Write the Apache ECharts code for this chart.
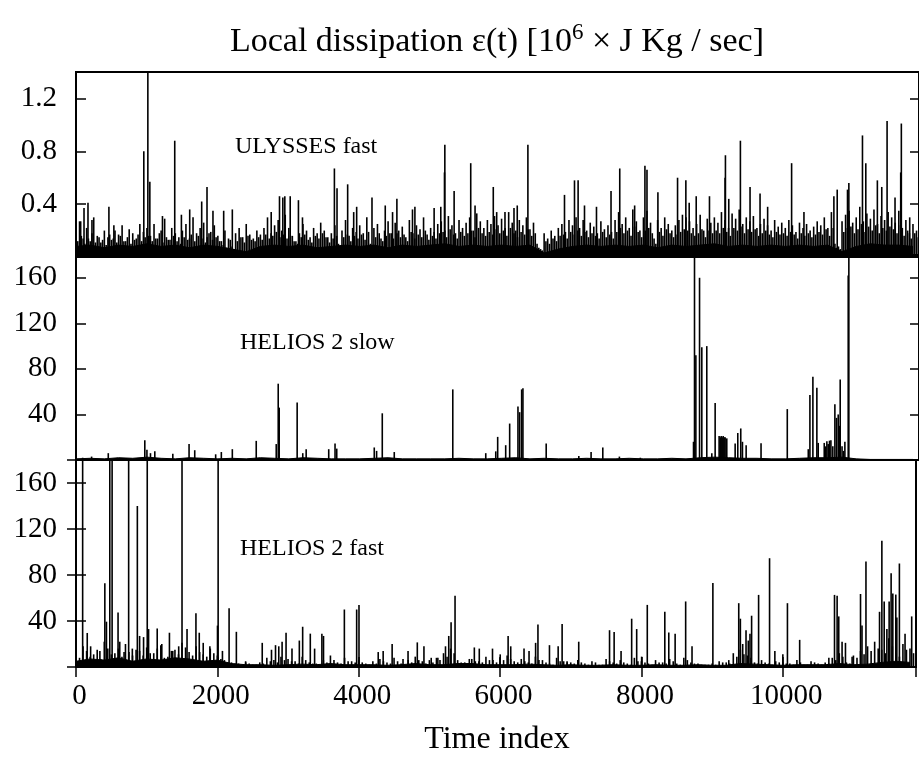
<!DOCTYPE html>
<html>
<head>
<meta charset="utf-8">
<script src="https://cdn.jsdelivr.net/npm/echarts@6/dist/echarts.min.js"></script>
<style>
  html, body { margin: 0; padding: 0; background: #fff; }
  #chart { width: 919px; height: 768px; }
</style>
</head>
<body>
<div id="chart"></div>
<script>
// x range of the time index (0 sits on the left frame, right frame is just off-page)
const xMax = 11885
const xTicks = [0, 2000, 4000, 6000, 8000, 10000]

// ULYSSES fast: background activity every 50 samples (two interleaved rows), solid floor every 200, tall spikes
const ulyssesBody = [
  0.18, 0.27, 0.14, 0.22, 0.12, 0.30, 0.16, 0.11, 0.20, 0.15,
  0.13, 0.20, 0.17, 0.24, 0.12, 0.21, 0.18, 0.14, 0.25, 0.19,
  0.22, 0.16, 0.25, 0.14, 0.20, 0.29, 0.13, 0.22, 0.18, 0.15,
  0.20, 0.25, 0.14, 0.30, 0.18, 0.22, 0.26, 0.15, 0.19, 0.24,
  0.16, 0.12, 0.20, 0.14, 0.08, 0.18, 0.22, 0.15, 0.25, 0.17,
  0.14, 0.20, 0.17, 0.22, 0.30, 0.18, 0.24, 0.28, 0.20, 0.32,
  0.22, 0.16, 0.12, 0.18, 0.25, 0.20, 0.15, 0.22, 0.18, 0.26,
  0.20, 0.15, 0.18, 0.24, 0.10, 0.20, 0.28, 0.16, 0.22, 0.19,
  0.24, 0.18, 0.30, 0.10, 0.22, 0.25, 0.14, 0.20, 0.27, 0.18,
  0.26, 0.20, 0.23, 0.15, 0.28, 0.18, 0.24, 0.21, 0.30, 0.17,
  0.22, 0.19, 0.25, 0.27, 0.20, 0.31, 0.24, 0.18, 0.28, 0.22,
  0.26, 0.30, 0.20, 0.33, 0.27, 0.22, 0.28, 0.25, 0.31, 0.24,
  0.29, 0.22, 0.34, 0.26, 0.20, 0.28, 0.24, 0.30, 0.21, 0.26,
  0.10, 0.06, 0.18, 0.14, 0.20, 0.16, 0.22, 0.25, 0.19, 0.28,
  0.24, 0.30, 0.22, 0.28, 0.20, 0.26, 0.23, 0.18, 0.27, 0.21,
  0.24, 0.19, 0.28, 0.34, 0.25, 0.30, 0.22, 0.36, 0.27, 0.20,
  0.30, 0.35, 0.26, 0.14, 0.28, 0.22, 0.30, 0.25, 0.20, 0.24,
  0.28, 0.32, 0.30, 0.27, 0.22, 0.25, 0.32, 0.20, 0.29, 0.26,
  0.30, 0.26, 0.34, 0.28, 0.22, 0.33, 0.29, 0.36, 0.25, 0.30,
  0.27, 0.31, 0.22, 0.25, 0.29, 0.24, 0.20, 0.28, 0.23, 0.26,
  0.22, 0.28, 0.24, 0.19, 0.26, 0.22, 0.25, 0.20, 0.23, 0.27,
  0.24, 0.30, 0.22, 0.34, 0.10, 0.08, 0.27, 0.32, 0.35, 0.26,
  0.30, 0.38, 0.27, 0.33, 0.29, 0.36, 0.25, 0.31, 0.28, 0.34,
  0.30, 0.26, 0.35, 0.22, 0.28, 0.18, 0.25, 0.20
]
// the in-between samples (index 25, 75, 125, ...)
const ulyssesBodyMid = [
  0.12, 0.16, 0.10, 0.14, 0.18, 0.11, 0.15, 0.13, 0.09, 0.17,
  0.14, 0.11, 0.16, 0.12, 0.15, 0.10, 0.13, 0.17, 0.12, 0.15,
  0.16, 0.12, 0.14, 0.18, 0.11, 0.15, 0.13, 0.16, 0.12, 0.10,
  0.15, 0.13, 0.17, 0.12, 0.16, 0.14, 0.11, 0.18, 0.13, 0.15,
  0.12, 0.09, 0.07, 0.13, 0.06, 0.12, 0.15, 0.11, 0.16, 0.13,
  0.12, 0.15, 0.13, 0.17, 0.14, 0.16, 0.19, 0.15, 0.17, 0.14,
  0.16, 0.12, 0.10, 0.15, 0.17, 0.13, 0.11, 0.16, 0.14, 0.18,
  0.15, 0.11, 0.14, 0.16, 0.08, 0.15, 0.17, 0.12, 0.16, 0.14,
  0.17, 0.13, 0.19, 0.08, 0.15, 0.18, 0.12, 0.16, 0.18, 0.14,
  0.18, 0.15, 0.17, 0.12, 0.19, 0.14, 0.17, 0.15, 0.20, 0.13,
  0.16, 0.14, 0.18, 0.19, 0.15, 0.21, 0.17, 0.14, 0.19, 0.16,
  0.18, 0.20, 0.15, 0.22, 0.18, 0.16, 0.19, 0.17, 0.21, 0.18,
  0.20, 0.16, 0.22, 0.18, 0.15, 0.19, 0.17, 0.21, 0.16, 0.18,
  0.07, 0.05, 0.12, 0.10, 0.14, 0.12, 0.16, 0.17, 0.14, 0.19,
  0.17, 0.20, 0.16, 0.19, 0.15, 0.18, 0.16, 0.14, 0.19, 0.15,
  0.17, 0.14, 0.19, 0.22, 0.18, 0.20, 0.16, 0.23, 0.19, 0.15,
  0.20, 0.22, 0.18, 0.10, 0.19, 0.16, 0.21, 0.18, 0.15, 0.17,
  0.19, 0.21, 0.20, 0.18, 0.16, 0.18, 0.21, 0.15, 0.20, 0.18,
  0.20, 0.18, 0.22, 0.19, 0.16, 0.22, 0.20, 0.23, 0.18, 0.21,
  0.19, 0.21, 0.16, 0.18, 0.20, 0.17, 0.15, 0.19, 0.17, 0.18,
  0.16, 0.19, 0.17, 0.14, 0.18, 0.16, 0.18, 0.15, 0.17, 0.19,
  0.17, 0.21, 0.16, 0.22, 0.07, 0.06, 0.19, 0.22, 0.23, 0.18,
  0.21, 0.25, 0.19, 0.23, 0.20, 0.24, 0.18, 0.22, 0.20, 0.23,
  0.21, 0.18, 0.24, 0.16, 0.20, 0.14, 0.18, 0.15
]
const ulyssesFloor = [
  0.08, 0.09, 0.07, 0.09, 0.08, 0.10, 0.08, 0.09, 0.07, 0.09,
  0.08, 0.06, 0.04, 0.08, 0.09, 0.08, 0.09, 0.07, 0.08, 0.09,
  0.08, 0.09, 0.07, 0.09, 0.08, 0.09, 0.10, 0.08, 0.09, 0.08,
  0.09, 0.08, 0.09, 0.03, 0.06, 0.08, 0.09, 0.08, 0.09, 0.08,
  0.09, 0.07, 0.09, 0.08, 0.09, 0.10, 0.08, 0.09, 0.08, 0.09,
  0.08, 0.09, 0.08, 0.09, 0.04, 0.08, 0.10, 0.09, 0.09, 0.08
]
const ulyssesSpikes = [
  [66, 0.27], [113, 0.37], [169, 0.41], [225, 0.28], [464, 0.38], [534, 0.24],
  [956, 0.80], [1013, 1.5], [1041, 0.57], [1219, 0.31], [1392, 0.88], [1486, 0.32],
  [1603, 0.36], [1772, 0.42], [1847, 0.53], [1931, 0.35], [2082, 0.35], [2204, 0.36],
  [2752, 0.34], [2869, 0.46], [2916, 0.45], [2944, 0.46], [3020, 0.46], [3136, 0.43],
  [3193, 0.30], [3643, 0.67], [3680, 0.52], [3830, 0.55], [3915, 0.34], [3957, 0.38],
  [4173, 0.45], [4360, 0.39], [4463, 0.34], [4524, 0.44], [4744, 0.36], [4778, 0.38],
  [5049, 0.37], [5143, 0.38], [5195, 0.64], [5200, 0.85], [5331, 0.50], [5565, 0.71],
  [5626, 0.39], [5883, 0.53], [5931, 0.34], [6048, 0.34], [6175, 0.37], [6221, 0.39],
  [6371, 0.85], [6887, 0.47], [7028, 0.58], [7079, 0.58], [7169, 0.39], [7338, 0.38],
  [7543, 0.50], [7666, 0.67], [7876, 0.39], [8021, 0.69], [8050, 0.66], [8204, 0.49],
  [8481, 0.60], [8598, 0.58], [8645, 0.41], [8744, 0.46], [8931, 0.46], [9151, 0.60],
  [9156, 0.77], [9203, 0.44], [9367, 0.88], [9503, 0.53], [9644, 0.48], [9751, 0.38],
  [10089, 0.71], [10263, 0.34], [10685, 0.46], [10732, 0.51], [10877, 0.51], [10896, 0.56],
  [11088, 0.92], [11135, 0.71], [11298, 0.58], [11360, 0.53], [11435, 1.03], [11547, 0.45],
  [11627, 0.64], [11636, 1.01], [11754, 0.30]
]

// HELIOS 2 slow: floor every 200 samples and the spikes
const slowFloor = [
  1, 1.5, 1, 2, 1.5, 2.5, 1.5, 1, 2, 1.5,
  1, 1.5, 1, 2, 1.5, 1, 2, 1.5, 1, 1,
  1, 1.5, 2, 1, 1, 1, 1, 1.5, 1, 1,
  1.5, 2, 1, 1.5, 1, 1, 1.5, 1, 1, 1.5,
  1, 1, 1.5, 1, 2, 2.5, 2, 1.5, 1.5, 1,
  1, 1.5, 2, 2, 2.5, 1, 0.5, 0.5, 0.5, 0.5
]
const slowSpikes = [
  [94, 2], [220, 3], [455, 6], [970, 17.4], [1000, 9], [1050, 6], [1111, 7.6],
  [1365, 5.5], [1594, 14], [1674, 8.6], [1969, 5], [2049, 7], [2204, 9.5], [2541, 16.8],
  [2823, 14], [2851, 67], [2865, 46], [3118, 50.5], [3197, 6], [3245, 9.5], [3563, 9.5],
  [3652, 14.5], [3676, 10], [4205, 11], [4238, 8], [4318, 41], [4487, 7], [5312, 62],
  [5777, 6], [5918, 7.6], [5945, 20.3], [6058, 13], [6114, 32], [6231, 47], [6255, 42],
  [6283, 62], [6301, 63], [6629, 14.5], [7089, 3.5], [7262, 7], [7427, 11], [7661, 3],
  [7956, 2], [8706, 16], [8720, 200], [8739, 92], [8791, 160], [8823, 99], [8893, 100],
  [8964, 6], [9011, 50], [9067, 21], [9082, 20], [9096, 21], [9110, 20], [9124, 21],
  [9138, 20], [9152, 20], [9175, 19], [9293, 14.5], [9330, 23.7], [9372, 27.7], [9396, 16],
  [9448, 13], [9658, 14.8], [10028, 44.7], [10324, 9.5], [10347, 57], [10389, 73],
  [10445, 63.4], [10464, 15], [10549, 15], [10567, 12], [10586, 16.4], [10605, 14], [10623, 17],
  [10643, 17.3], [10670, 12], [10699, 49], [10722, 37], [10746, 40], [10760, 30], [10774, 70.7],
  [10800, 12], [10820, 8], [10840, 16], [10887, 162], [10896, 200]
]

// HELIOS 2 fast: background every 100 samples (two interleaved rows), floor every 200, spikes
const fastBody = [
  12, 18, 9, 15, 22, 11, 16, 20, 10, 14,
  17, 12, 19, 9, 15, 21, 13, 18, 11, 16,
  10, 6, 4, 3, 5, 2, 4, 8, 6, 9,
  7, 5, 9, 4, 3, 6, 10, 4, 8, 5,
  6, 3, 5, 7, 4, 8, 3, 6, 9, 5,
  6, 8, 12, 16, 6, 4, 7, 5, 9, 6,
  8, 10, 5, 7, 4, 9, 6, 3, 8, 5,
  4, 6, 3, 5, 2, 7, 4, 6, 3, 8,
  5, 3, 6, 4, 7, 3, 8, 4, 3, 2,
  3, 5, 4, 12, 15, 10, 4, 6, 3, 5,
  4, 3, 6, 2, 5, 3, 4, 8, 12, 4,
  10, 14, 18, 22, 15, 25, 12, 20, 16
]
// the in-between samples (index 50, 150, 250, ...)
const fastBodyMid = [
  8, 14, 11, 7, 16, 12, 9, 13, 15, 10,
  12, 16, 8, 14, 11, 17, 10, 13, 9, 12,
  7, 4, 3, 2, 3, 2, 3, 5, 4, 6,
  5, 3, 6, 3, 2, 4, 6, 3, 5, 4,
  4, 2, 3, 5, 3, 5, 2, 4, 6, 3,
  4, 6, 9, 12, 4, 3, 5, 4, 6, 4,
  6, 7, 4, 5, 3, 6, 4, 2, 5, 4,
  3, 4, 2, 4, 2, 5, 3, 4, 2, 5,
  4, 2, 4, 3, 5, 2, 6, 3, 2, 2,
  2, 4, 3, 9, 11, 8, 3, 4, 2, 4,
  3, 2, 4, 2, 4, 2, 3, 6, 9, 3,
  8, 11, 14, 16, 12, 18, 9, 15, 12
]
const fastFloor = [
  5, 7, 6, 8, 5, 7, 6, 8, 7, 5,
  6, 3, 2, 2, 1.5, 2, 2.5, 2, 3, 2,
  2, 2, 1.5, 2, 3, 2, 2, 3, 3, 2,
  2, 2, 2.5, 2, 1.5, 2, 1.5, 1.5, 2, 1.5,
  1.5, 2, 1.5, 1.5, 2, 1.5, 1.5, 3, 2.5, 2,
  1.5, 2, 2, 2, 3, 2, 2.5, 4, 5, 4
]
const fastSpikes = [
  [94, 200], [159, 29.6], [207, 18], [338, 14], [408, 72.8], [431, 39.4], [478, 200],
  [511, 200], [595, 47.3], [619, 22], [680, 13], [745, 200], [797, 16], [868, 140],
  [900, 27], [956, 26], [1008, 200], [1027, 33], [1149, 33.5], [1214, 20], [1322, 29.8],
  [1369, 14], [1453, 18], [1500, 200], [1571, 33], [1697, 46.7], [1744, 29.8], [1800, 21],
  [1894, 18], [2002, 36], [2011, 200], [2072, 14], [2166, 51], [2269, 30.6], [2401, 4],
  [2635, 21], [2766, 15], [2823, 19], [2869, 18], [2916, 22], [2972, 29.8], [3056, 16],
  [3160, 23], [3207, 35], [3315, 29], [3376, 16], [3479, 29], [3502, 27], [3797, 50],
  [3971, 50], [4004, 54], [4276, 13], [4346, 14], [4473, 20], [4627, 7], [4698, 14],
  [4829, 21.4], [4923, 18], [5026, 8], [5120, 8], [5228, 18], [5274, 27], [5307, 39],
  [5363, 62], [5565, 7], [5636, 17], [5706, 16], [5893, 16], [6002, 11], [6114, 27],
  [6151, 18], [6339, 16], [6410, 14], [6503, 21], [6536, 37], [6699, 19], [6822, 18],
  [6878, 37.4], [6948, 5], [7113, 22], [7549, 32], [7614, 30.5], [7712, 14], [7862, 42],
  [7933, 33], [8003, 9], [8083, 54], [8331, 48], [8387, 30], [8477, 29], [8626, 57],
  [8716, 18], [9011, 73], [9236, 6], [9377, 55.5], [9400, 42], [9433, 20], [9480, 32],
  [9512, 23], [9536, 29], [9559, 44.6], [9658, 62.7], [9813, 94.6], [9888, 14], [10001, 11],
  [10066, 55.5], [10239, 23.6], [10652, 8], [10732, 62.7], [10769, 62], [10792, 44],
  [10839, 22], [10887, 21], [10981, 9], [11100, 63.5], [11121, 36], [11177, 91.7],
  [11369, 48], [11402, 109.7], [11435, 57], [11473, 33], [11505, 57], [11533, 81.6],
  [11557, 64], [11599, 63], [11614, 43], [11650, 90], [11730, 29], [11824, 44]
]

const panelNames = ['ULYSSES fast', 'HELIOS 2 slow', 'HELIOS 2 fast']
const yMaxes = [1.4, 180, 180]
const yIntervals = [0.4, 40, 40]

const FONT = "'Liberation Serif', 'Times New Roman', serif"

function sampled(step, values, offset) {
  return values.map((v, i) => [(offset || 0) + i * step, v])
}

const barData = [
  sampled(50, ulyssesBody).concat(sampled(50, ulyssesBodyMid, 25), ulyssesSpikes),
  slowSpikes.slice(),
  sampled(100, fastBody).concat(sampled(100, fastBodyMid, 50), fastSpikes)
].map(d => d.sort((a, b) => a[0] - b[0]))

const floorData = [
  sampled(200, ulyssesFloor),
  sampled(200, slowFloor),
  sampled(200, fastFloor)
]

const grids = [
  { left: 76, top: 72, width: 845, height: 185 },
  { left: 76, top: 255, width: 845, height: 205 },
  { left: 76, top: 460, width: 845, height: 207 }
].map(g => Object.assign(g, { show: true, borderColor: '#000', borderWidth: 2, backgroundColor: 'transparent' }))

const xAxes = []
const yAxes = []
const series = []

grids.forEach((g, i) => {
  const last = i === 2
  xAxes.push({
    gridIndex: i, type: 'value', min: 0, max: xMax, interval: 2000,
    axisLine: { show: false },
    axisTick: { show: last, inside: true, length: 10, lineStyle: { color: '#000', width: 1.5 } },
    axisLabel: {
      show: last, fontFamily: FONT, fontSize: 29, color: '#000', margin: 15, padding: [0, 0, 0, 7],
      formatter: v => (xTicks.indexOf(v) >= 0 ? String(v) : '')
    },
    splitLine: { show: false }
  })
  const fmt = i === 0
    ? v => (v > 0.01 && v < 1.3 ? v.toFixed(1) : '')
    : v => (v > 0 && v < 170 ? String(v) : '')
  yAxes.push({
    gridIndex: i, type: 'value', min: 0, max: yMaxes[i], interval: yIntervals[i],
    axisLine: { show: false },
    axisTick: { inside: true, length: 10, lineStyle: { color: '#000', width: 1.5 } },
    axisLabel: { fontFamily: FONT, fontSize: 29, color: '#000', margin: 19, formatter: fmt },
    splitLine: { show: false }
  })
  yAxes.push({
    gridIndex: i, type: 'value', position: 'right', min: 0, max: yMaxes[i], interval: yIntervals[i],
    axisLine: { show: false },
    axisTick: { inside: true, length: 9, lineStyle: { color: '#000', width: 1.5 } },
    axisLabel: { show: false },
    splitLine: { show: false }
  })
  series.push({
    type: 'line', xAxisIndex: i, yAxisIndex: 2 * i, data: floorData[i],
    symbol: 'none', lineStyle: { color: '#000', width: 1 },
    areaStyle: { color: '#000', opacity: 1 }, silent: true
  })
  series.push({
    type: 'bar', xAxisIndex: i, yAxisIndex: 2 * i, data: barData[i],
    barWidth: 1.6, itemStyle: { color: '#000' }, clip: true, silent: true
  })
})

// mirrored ticks on top of the last panel
xAxes.push({
  gridIndex: 2, type: 'value', position: 'top', min: 0, max: xMax, interval: 2000,
  axisLine: { show: false },
  axisTick: { inside: true, length: 10, lineStyle: { color: '#000', width: 1.5 } },
  axisLabel: { show: false },
  splitLine: { show: false }
})

const labelPos = [[235, 147], [240, 343], [240, 549]]

const chart = echarts.init(document.getElementById('chart'), null, { renderer: 'canvas' })
chart.setOption({
  animation: false,
  backgroundColor: '#fff',
  grid: grids,
  xAxis: xAxes,
  yAxis: yAxes,
  series: series,
  graphic: [
    {
      type: 'text', x: 497, y: 42, z: 10,
      style: {
        text: '{t|Local dissipation ε(t) [10}{sup|6}{t| × J Kg / sec]}',
        fill: '#000', align: 'center', verticalAlign: 'middle',
        rich: {
          t: { fontFamily: FONT, fontSize: 34, lineHeight: 42 },
          sup: { fontFamily: FONT, fontSize: 23, lineHeight: 14, verticalAlign: 'top' }
        }
      }
    },
    {
      type: 'text', x: 497, y: 740, z: 10,
      style: { text: 'Time index', fill: '#000', font: '32px ' + FONT, align: 'center', verticalAlign: 'middle' }
    }
  ].concat(panelNames.map((name, i) => ({
    type: 'text', x: labelPos[i][0], y: labelPos[i][1], z: 10,
    style: { text: name, fill: '#000', font: '24px ' + FONT, align: 'left', verticalAlign: 'middle' }
  })))
})
</script>
</body>
</html>
